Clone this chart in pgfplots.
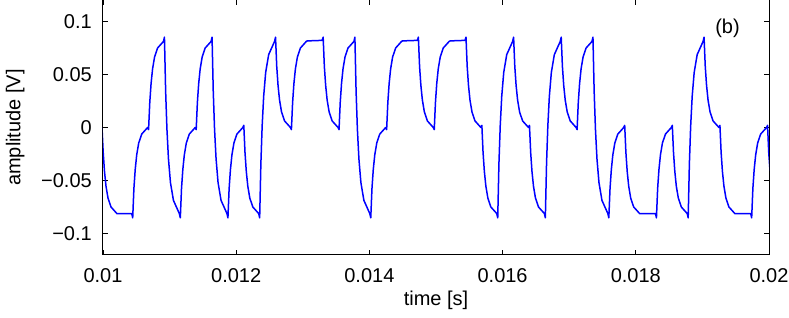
\documentclass[border=0pt]{standalone}
\usepackage{fontspec}
\setmainfont{Liberation Sans}
\usepackage{pgfplots}
\pgfplotsset{compat=1.18}
\begin{document}
\begin{tikzpicture}[font=\fontsize{20}{24}\selectfont]
\begin{axis}[
  scale only axis, width=666pt, height=255pt,
  at={(0,0)}, anchor=south west,
  xmin=0.01, xmax=0.02, ymin=-0.12, ymax=0.12,
  xtick={0.01,0.012,0.014,0.016,0.018,0.02},
  xticklabels={0.01,0.012,0.014,0.016,0.018,0.02},
  ytick={-0.1,-0.05,0,0.05,0.1},
  yticklabels={−0.1,−0.05,0,0.05,0.1},
  scaled x ticks=false, scaled y ticks=false,
  tick align=inside, major tick length=5pt,
  axis line style={line width=1pt},
  every tick/.style={black, line width=0.9pt},
  tick label style={font=\fontsize{20}{24}\selectfont},
  label style={font=\fontsize{20}{24}\selectfont},
  xticklabel style={inner sep=0pt, anchor=north, yshift=-13pt},
  yticklabel style={inner sep=0pt, anchor=east, xshift=-11pt},
  xlabel={time [s]}, ylabel={amplitude [V]},
  xlabel style={at={(axis description cs:0.5,-0.176)}, anchor=center, inner sep=0pt},
  ylabel style={at={(axis description cs:-0.132,0.5)}, anchor=center, inner sep=0pt},
  clip=true,
]
\addplot[color=blue, line width=1.5pt, line join=round] coordinates {
(0.0099850,0) (0.0100030,-0.0235) (0.0100225,-0.0413) (0.0100451,-0.0552) (0.0100751,-0.0664) (0.0101201,-0.0748) (0.0101802,-0.0790)
(0.0102077,-0.081) (0.0104314,-0.081)
(0.0104460,-0.085) (0.0104640,-0.0575) (0.0104835,-0.0397) (0.0105061,-0.0258) (0.0105361,-0.0146) (0.0105811,-0.0062) (0.0106412,-0.0020) (0.0106697,0)
(0.0106843,-0.002) (0.0107023,0.0235) (0.0107218,0.0413) (0.0107444,0.0552) (0.0107744,0.0664) (0.0108194,0.0748) (0.0108795,0.0790) (0.0109080,0.081)
(0.0109226,0.085) (0.0109406,0.0340) (0.0109601,-0.0016) (0.0109827,-0.0293) (0.0110127,-0.0518) (0.0110577,-0.0686) (0.0111178,-0.0770) (0.0111463,-0.081)
(0.0111609,-0.085) (0.0111789,-0.0575) (0.0111984,-0.0397) (0.0112210,-0.0258) (0.0112510,-0.0146) (0.0112960,-0.0062) (0.0113561,-0.0020) (0.0113846,0)
(0.0113992,-0.002) (0.0114172,0.0235) (0.0114367,0.0413) (0.0114593,0.0552) (0.0114893,0.0664) (0.0115343,0.0748) (0.0115944,0.0790) (0.0116229,0.081)
(0.0116375,0.085) (0.0116555,0.0340) (0.0116750,-0.0016) (0.0116976,-0.0293) (0.0117276,-0.0518) (0.0117726,-0.0686) (0.0118327,-0.0770) (0.0118612,-0.081)
(0.0118758,-0.085) (0.0118938,-0.0575) (0.0119133,-0.0397) (0.0119359,-0.0258) (0.0119659,-0.0146) (0.0120109,-0.0062) (0.0120710,-0.0020) (0.0120995,0)
(0.0121141,0.002) (0.0121321,-0.0235) (0.0121516,-0.0413) (0.0121742,-0.0552) (0.0122042,-0.0664) (0.0122492,-0.0748) (0.0123093,-0.0790) (0.0123378,-0.081)
(0.0123524,-0.085) (0.0123704,-0.0340) (0.0123899,0.0016) (0.0124125,0.0293) (0.0124425,0.0518) (0.0124875,0.0686) (0.0125476,0.0770) (0.0125761,0.081)
(0.0125907,0.085) (0.0126087,0.0575) (0.0126282,0.0397) (0.0126508,0.0258) (0.0126808,0.0146) (0.0127258,0.0062) (0.0127859,0.0020) (0.0128144,0)
(0.0128290,-0.002) (0.0128470,0.0235) (0.0128665,0.0413) (0.0128891,0.0552) (0.0129191,0.0664) (0.0129641,0.0748) (0.0130242,0.0790) (0.0130527,0.081)
(0.0130673,0.0815) (0.0132910,0.082)
(0.0133056,0.085) (0.0133236,0.0575) (0.0133431,0.0397) (0.0133657,0.0258) (0.0133957,0.0146) (0.0134407,0.0062) (0.0135008,0.0020) (0.0135293,0)
(0.0135439,-0.002) (0.0135619,0.0235) (0.0135814,0.0413) (0.0136040,0.0552) (0.0136340,0.0664) (0.0136790,0.0748) (0.0137391,0.0790) (0.0137676,0.081)
(0.0137822,0.085) (0.0138002,0.0340) (0.0138197,-0.0016) (0.0138423,-0.0293) (0.0138723,-0.0518) (0.0139173,-0.0686) (0.0139774,-0.0770) (0.0140059,-0.081)
(0.0140205,-0.085) (0.0140385,-0.0575) (0.0140580,-0.0397) (0.0140806,-0.0258) (0.0141106,-0.0146) (0.0141556,-0.0062) (0.0142157,-0.0020) (0.0142442,0)
(0.0142588,-0.002) (0.0142768,0.0235) (0.0142963,0.0413) (0.0143189,0.0552) (0.0143489,0.0664) (0.0143939,0.0748) (0.0144540,0.0790) (0.0144825,0.081)
(0.0144971,0.0815) (0.0147208,0.082)
(0.0147354,0.085) (0.0147534,0.0575) (0.0147729,0.0397) (0.0147955,0.0258) (0.0148255,0.0146) (0.0148705,0.0062) (0.0149306,0.0020) (0.0149591,0)
(0.0149737,-0.002) (0.0149917,0.0235) (0.0150112,0.0413) (0.0150338,0.0552) (0.0150638,0.0664) (0.0151088,0.0748) (0.0151689,0.0790) (0.0151974,0.081)
(0.0152120,0.0815) (0.0154357,0.082)
(0.0154503,0.085) (0.0154683,0.0575) (0.0154878,0.0397) (0.0155104,0.0258) (0.0155404,0.0146) (0.0155854,0.0062) (0.0156455,0.0020) (0.0156740,0)
(0.0156886,0.002) (0.0157066,-0.0235) (0.0157261,-0.0413) (0.0157487,-0.0552) (0.0157787,-0.0664) (0.0158237,-0.0748) (0.0158838,-0.0790) (0.0159123,-0.081)
(0.0159269,-0.085) (0.0159449,-0.0340) (0.0159644,0.0016) (0.0159870,0.0293) (0.0160170,0.0518) (0.0160620,0.0686) (0.0161221,0.0770) (0.0161506,0.081)
(0.0161652,0.085) (0.0161832,0.0575) (0.0162027,0.0397) (0.0162253,0.0258) (0.0162553,0.0146) (0.0163003,0.0062) (0.0163604,0.0020) (0.0163889,0)
(0.0164035,0.002) (0.0164215,-0.0235) (0.0164410,-0.0413) (0.0164636,-0.0552) (0.0164936,-0.0664) (0.0165386,-0.0748) (0.0165987,-0.0790) (0.0166272,-0.081)
(0.0166418,-0.085) (0.0166598,-0.0340) (0.0166793,0.0016) (0.0167019,0.0293) (0.0167319,0.0518) (0.0167769,0.0686) (0.0168370,0.0770) (0.0168655,0.081)
(0.0168801,0.085) (0.0168981,0.0575) (0.0169176,0.0397) (0.0169402,0.0258) (0.0169702,0.0146) (0.0170152,0.0062) (0.0170753,0.0020) (0.0171038,0)
(0.0171184,-0.002) (0.0171364,0.0235) (0.0171559,0.0413) (0.0171785,0.0552) (0.0172085,0.0664) (0.0172535,0.0748) (0.0173136,0.0790) (0.0173421,0.081)
(0.0173567,0.085) (0.0173747,0.0340) (0.0173942,-0.0016) (0.0174168,-0.0293) (0.0174468,-0.0518) (0.0174918,-0.0686) (0.0175519,-0.0770) (0.0175804,-0.081)
(0.0175950,-0.085) (0.0176130,-0.0575) (0.0176325,-0.0397) (0.0176551,-0.0258) (0.0176851,-0.0146) (0.0177301,-0.0062) (0.0177902,-0.0020) (0.0178187,0)
(0.0178333,0.002) (0.0178513,-0.0235) (0.0178708,-0.0413) (0.0178934,-0.0552) (0.0179234,-0.0664) (0.0179684,-0.0748) (0.0180285,-0.0790) (0.0180570,-0.081)
(0.0180716,-0.081) (0.0182953,-0.081)
(0.0183099,-0.085) (0.0183279,-0.0575) (0.0183474,-0.0397) (0.0183700,-0.0258) (0.0184000,-0.0146) (0.0184450,-0.0062) (0.0185051,-0.0020) (0.0185336,0)
(0.0185482,0.002) (0.0185662,-0.0235) (0.0185857,-0.0413) (0.0186083,-0.0552) (0.0186383,-0.0664) (0.0186833,-0.0748) (0.0187434,-0.0790) (0.0187719,-0.081)
(0.0187865,-0.085) (0.0188045,-0.0340) (0.0188240,0.0016) (0.0188466,0.0293) (0.0188766,0.0518) (0.0189216,0.0686) (0.0189817,0.0770) (0.0190102,0.081)
(0.0190248,0.085) (0.0190428,0.0575) (0.0190623,0.0397) (0.0190849,0.0258) (0.0191149,0.0146) (0.0191599,0.0062) (0.0192200,0.0020) (0.0192485,0)
(0.0192631,0.002) (0.0192811,-0.0235) (0.0193006,-0.0413) (0.0193232,-0.0552) (0.0193532,-0.0664) (0.0193982,-0.0748) (0.0194583,-0.0790) (0.0194868,-0.081)
(0.0195014,-0.081) (0.0197251,-0.081)
(0.0197397,-0.085) (0.0197577,-0.0575) (0.0197772,-0.0397) (0.0197998,-0.0258) (0.0198298,-0.0146) (0.0198748,-0.0062) (0.0199349,-0.0020) (0.0199634,0)
(0.0199780,0.002) (0.0199960,-0.0235) (0.0200155,-0.0413)
};
\node[inner sep=0pt] at (axis cs:0.019377,0.0934) {(b)};
\end{axis}
\pgfresetboundingbox
\path[use as bounding box] (-103pt,-63pt) rectangle (686pt,255pt);
\end{tikzpicture}
\end{document}
